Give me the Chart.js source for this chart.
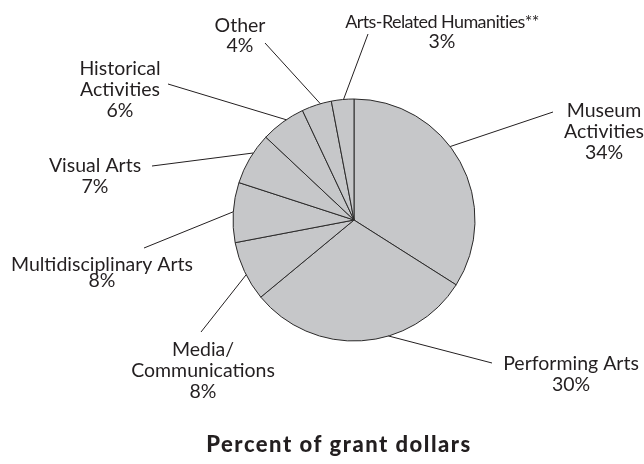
<!DOCTYPE html>
<html>
<head>
<meta charset="utf-8">
<script src="https://cdn.jsdelivr.net/npm/chart.js@4"></script>
<style>
  html, body { margin: 0; padding: 0; background: #fff; }
  #wrap { width: 644px; height: 464px; position: relative; }
</style>
</head>
<body>
<div id="wrap"><canvas id="pie"></canvas></div>
<script>
// categories (multi-line as drawn) and percent of grant dollars
const categories = [
  ['Museum', 'Activities'],
  ['Performing Arts'],
  ['Media/', 'Communications'],
  ['Multidisciplinary Arts'],
  ['Visual Arts'],
  ['Historical', 'Activities'],
  ['Other'],
  ['Arts-Related Humanities**']
];
const percents = [34, 30, 8, 8, 7, 6, 4, 3];
const chartTitle = 'Percent of grant dollars';

const TOKENS = {
  fill: '#c6c7c9',
  stroke: '#2b2a2a',
  text: '#231f20',
  font: 'Lato, "Open Sans", sans-serif'
};

// label placement, relative to pie centre:
// at = where along the slice the leader starts (0..1), end = leader end,
// tx/ty = text centre x and first baseline, lh = line height
const LAYOUT = [
  { at: 0.43, end: [199, -108], tx: 250, ty: -103, lh: 21 },
  { at: 0.38, end: [138, 143],  tx: 217, ty: 150,  lh: 21 },
  { at: 0.44, end: [-153, 112], tx: -151, ty: 136, lh: 21 },
  { at: 0.51, end: [-210, 28],  tx: -252, ty: 51,  lh: 16 },
  { at: 0.62, end: [-202, -54], tx: -259, ty: -48, lh: 21 },
  { at: 0.59, end: [-186, -136], tx: -234, ty: -145, lh: 21 },
  { at: 0.63, end: [-89, -177], tx: -114, ty: -188, lh: 20 },
  { at: 0.54, end: [14, -186],  tx: 88,  ty: -192, lh: 20, tight: true }
];

const LeaderLabels = {
  id: 'LeaderLabels',
  afterDraw(chart) {
    const ctx = chart.ctx;
    const arcs = chart.getDatasetMeta(0).data;
    ctx.save();
    arcs.forEach((arc, i) => {
      const cx = arc.x, cy = arc.y;
      const L = LAYOUT[i];
      const a = arc.startAngle + (arc.endAngle - arc.startAngle) * L.at;
      const r = arc.outerRadius;

      // leader line from slice edge to label
      ctx.strokeStyle = TOKENS.text;
      ctx.lineWidth = 1;
      ctx.beginPath();
      ctx.moveTo(cx + Math.cos(a) * r, cy + Math.sin(a) * r);
      ctx.lineTo(cx + L.end[0], cy + L.end[1]);
      ctx.stroke();

      // label lines + percent
      const lines = categories[i].concat([percents[i] + '%']);
      ctx.fillStyle = TOKENS.text;
      ctx.textAlign = 'center';
      ctx.textBaseline = 'alphabetic';
      lines.forEach((t, k) => {
        // the long first line of the humanities label is set tighter
        const tight = L.tight && k < lines.length - 1;
        ctx.font = (tight ? 18 : 19.5) + 'px ' + TOKENS.font;
        ctx.letterSpacing = tight ? '-0.6px' : '0px';
        ctx.fillText(t, cx + L.tx, cy + L.ty + k * L.lh);
      });
    });

    // title under the pie
    ctx.font = '900 22px ' + TOKENS.font;
    ctx.letterSpacing = '1.5px';
    ctx.textAlign = 'center';
    ctx.fillText(chartTitle, 339, 452);
    ctx.restore();
  }
};

new Chart(document.getElementById('pie'), {
  type: 'pie',
  data: {
    labels: categories.map(c => c.join(' ')),
    datasets: [{
      data: percents,
      backgroundColor: TOKENS.fill,
      borderColor: TOKENS.stroke,
      borderWidth: 1,
      radius: 121
    }]
  },
  options: {
    responsive: true,
    maintainAspectRatio: false,
    animation: false,
    layout: { padding: { left: 64, right: 0, top: 0, bottom: 24 } },
    plugins: {
      legend: { display: false },
      tooltip: { enabled: false },
      title: { display: false }
    }
  },
  plugins: [LeaderLabels]
});
</script>
</body>
</html>
